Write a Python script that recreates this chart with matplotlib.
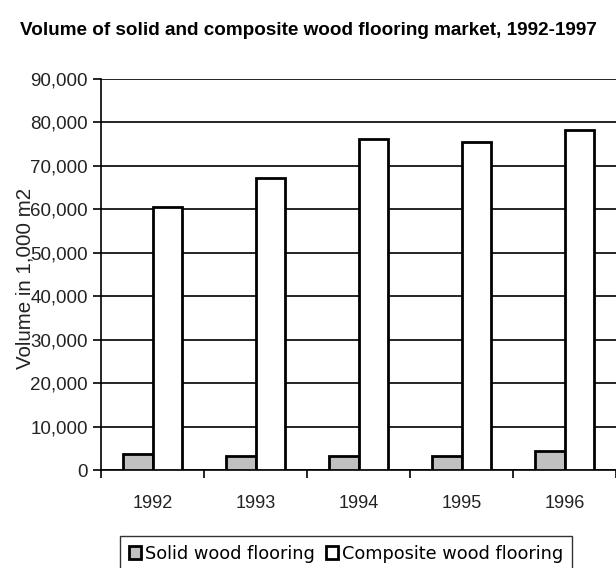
import matplotlib
matplotlib.use('Agg')
import matplotlib.pyplot as plt
import numpy as np
from matplotlib.ticker import FuncFormatter

years = ['1992', '1993', '1994', '1995', '1996']
solid = [3600, 3200, 3200, 3300, 4450]
composite = [60600, 67200, 76200, 75600, 78300]

plt.rcParams['font.family'] = ['Liberation Sans', 'DejaVu Sans']

fig = plt.figure(figsize=(6.16, 5.68), dpi=100)
ax = fig.add_axes([0.164, 0.1725, 0.836, 0.6884])

x = np.arange(len(years))
w = 0.285
ax.bar(x - w/2, solid, w, color='#c0c0c0', edgecolor='black', linewidth=2, label='Solid wood flooring', zorder=3)
ax.bar(x + w/2, composite, w, color='white', edgecolor='black', linewidth=2, label='Composite wood flooring', zorder=3)

ax.set_ylim(0, 90000)
ax.set_xlim(-0.5, 4.428)
ax.set_yticks(np.arange(0, 90001, 10000))
ax.yaxis.set_major_formatter(FuncFormatter(lambda v, p: f'{int(v):,}'))
ax.grid(axis='y', color='black', linewidth=1.2, zorder=0)
ax.set_axisbelow(True)

ax.set_xticks(x)
ax.set_xticklabels(years)
ax.set_xticks(np.arange(-0.5, 5, 1), minor=True)
ax.tick_params(axis='x', which='major', length=0, pad=18, labelsize=13, labelcolor='#222222')
ax.tick_params(axis='x', which='minor', length=6, width=1.2, direction='out')
ax.tick_params(axis='y', length=6, width=1.2, labelsize=13.5, labelcolor='#222222')

for s in ['top', 'right']:
    ax.spines[s].set_visible(False)
ax.spines['left'].set_linewidth(1.2)
ax.spines['bottom'].set_linewidth(1.2)

ax.set_ylabel('Volume in 1,000 m2', fontsize=14.8, color='#222222')
ax.yaxis.set_label_coords(-0.13, 0.49)

# title: condensed-looking bold, fitted to the reference width
title = fig.text(0.5, 0.947, 'Volume of solid and composite wood flooring market, 1992-1997',
                 ha='center', va='center', fontsize=16, fontweight='bold',
                 family=['Liberation Sans Narrow', 'Liberation Sans', 'DejaVu Sans'])
fig.canvas.draw()
tw = title.get_window_extent().width
title.set_fontsize(16 * 577 / tw)

leg = fig.legend(loc='upper left', bbox_to_anchor=(0.195, 0.0563), ncol=2,
                 frameon=True, fancybox=False, edgecolor='black',
                 handlelength=0.7, handleheight=0.7, handletextpad=0.2,
                 columnspacing=0.6, borderpad=0.5, borderaxespad=0,
                 prop={'family': ['DejaVu Sans'], 'size': 12.8})
leg.get_frame().set_linewidth(1.0)
for h in leg.legend_handles:
    h.set_linewidth(2)

fig.savefig('out.png', dpi=100)
